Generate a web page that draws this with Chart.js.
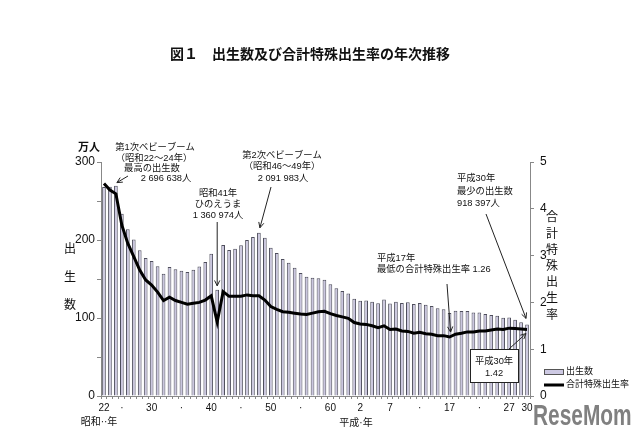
<!DOCTYPE html>
<html><head><meta charset="utf-8">
<script src="https://cdn.jsdelivr.net/npm/chart.js@4/dist/chart.umd.min.js"></script>
<style>html,body{margin:0;padding:0;background:#fff;}#wrap{position:relative;width:640px;height:436px;}</style>
</head><body><div id="wrap"><canvas id="c" width="640" height="436"></canvas></div>
<script>
// ---- data ----
const years = [1947,1948,1949,1950,1951,1952,1953,1954,1955,1956,1957,1958,1959,1960,1961,1962,1963,1964,1965,1966,1967,1968,1969,1970,1971,1972,1973,1974,1975,1976,1977,1978,1979,1980,1981,1982,1983,1984,1985,1986,1987,1988,1989,1990,1991,1992,1993,1994,1995,1996,1997,1998,1999,2000,2001,2002,2003,2004,2005,2006,2007,2008,2009,2010,2011,2012,2013,2014,2015,2016,2017,2018];
// births, 10k persons (万人)
const births = [267.9,268.2,269.7,233.8,213.8,200.5,186.8,177.0,173.1,166.5,156.7,165.3,162.6,160.6,158.9,161.9,166.0,171.7,182.4,136.1,193.6,187.2,188.9,193.4,200.1,203.9,209.2,203.0,190.1,183.3,175.5,170.9,164.3,157.7,152.9,151.5,150.9,149.0,143.2,138.3,134.7,131.4,124.7,122.2,122.3,120.9,118.8,123.8,118.7,120.7,119.2,120.3,117.8,119.1,117.1,115.4,112.4,111.1,106.3,109.3,109.0,109.1,107.0,107.1,105.1,103.7,103.0,100.4,100.6,97.7,94.6,91.8];
// total fertility rate
const tfr = [4.54,4.40,4.32,3.65,3.26,2.98,2.69,2.48,2.37,2.22,2.04,2.11,2.04,2.00,1.96,1.98,2.00,2.05,2.14,1.58,2.23,2.13,2.13,2.13,2.16,2.14,2.14,2.05,1.91,1.85,1.80,1.79,1.77,1.75,1.74,1.77,1.80,1.81,1.76,1.72,1.69,1.66,1.57,1.54,1.53,1.50,1.46,1.50,1.42,1.43,1.39,1.38,1.34,1.36,1.33,1.32,1.29,1.29,1.26,1.32,1.34,1.37,1.37,1.39,1.39,1.41,1.43,1.42,1.45,1.44,1.43,1.42];
const tickYears = [1947,1950,1955,1960,1965,1970,1975,1980,1985,1990,1995,2000,2005,2010,2015,2018];
const tickText  = ['22','·','30','·','40','·','50','·','60','2','7','·','17','·','27','30'];
const leftTicks = [0,100,200,300];
const rightTicks = [0,1,2,3,4,5];

const FF = "'Liberation Sans','Noto Sans CJK JP',sans-serif";
const idx = y => years.indexOf(y);

function arrow(ctx,x1,y1,x2,y2){
  ctx.save();
  ctx.strokeStyle='#222';ctx.lineWidth=1;
  ctx.beginPath();ctx.moveTo(x1,y1);ctx.lineTo(x2,y2);ctx.stroke();
  const a=Math.atan2(y2-y1,x2-x1), L=6, w=0.45;
  ctx.beginPath();
  ctx.moveTo(x2-L*Math.cos(a-w),y2-L*Math.sin(a-w));
  ctx.lineTo(x2,y2);
  ctx.lineTo(x2-L*Math.cos(a+w),y2-L*Math.sin(a+w));
  ctx.stroke();
  ctx.restore();
}
function txt(ctx,s,x,y,size,align,bold){
  ctx.font=(bold?'bold ':'')+size+'px '+FF;
  ctx.textAlign=align||'left';ctx.textBaseline='middle';ctx.fillStyle='#111';
  ctx.fillText(s,x,y);
}

const annot = {
  id:'annot',
  afterDraw(chart){
    const ctx=chart.ctx, xs=chart.scales.x, yl=chart.scales.y, yr=chart.scales.y2;
    const bx=i=>xs.getPixelForValue(i);
    // title
    txt(ctx,'図１　出生数及び合計特殊出生率の年次推移',310,55,14,'center',true);
    // axis titles
    txt(ctx,'万人',89,148,11,'center',true);
    ['出','生','数'].forEach((c,i)=>txt(ctx,c,70,250+i*28,12,'center'));
    ['合','計','特','殊','出','生','率'].forEach((c,i)=>txt(ctx,c,552,218+i*16.2,12,'center'));
    txt(ctx,'昭和··年',99,422,10,'center');
    txt(ctx,'平成·年',356,423,10,'center');
    // baby boom 1
    txt(ctx,'第1次ベビーブーム',155,147,9.3,'center');
    txt(ctx,'（昭和22～24年）',154,158,9.3,'center');
    txt(ctx,'最高の出生数',152,168,9.3,'center');
    txt(ctx,'2 696 638人',166,178,9.3,'center');
    let i=idx(1949);
    arrow(ctx,128,176,bx(i)+1,yl.getPixelForValue(births[i])-3);
    // baby boom 2
    txt(ctx,'第2次ベビーブーム',282,155,9.3,'center');
    txt(ctx,'（昭和46～49年）',282,166,9.3,'center');
    txt(ctx,'2 091 983人',283,178,9.3,'center');
    i=idx(1973);
    arrow(ctx,271,187,bx(i)+1,yl.getPixelForValue(births[i])-5);
    // hinoeuma
    txt(ctx,'昭和41年',218,193,9.3,'center');
    txt(ctx,'ひのえうま',218,204,9.3,'center');
    txt(ctx,'1 360 974人',218,215,9.3,'center');
    i=idx(1966);
    arrow(ctx,bx(i),222,bx(i),yl.getPixelForValue(births[i])-4);
    // lowest TFR
    txt(ctx,'平成17年',377,258,9.3,'left');
    txt(ctx,'最低の合計特殊出生率 1.26',377,269,9.3,'left');
    i=idx(2005);
    arrow(ctx,447,284,bx(i)+1,yr.getPixelForValue(tfr[i])-5);
    // lowest births
    txt(ctx,'平成30年',457,178,9.3,'left');
    txt(ctx,'最少の出生数',457,191,9.3,'left');
    txt(ctx,'918 397人',457,203,9.3,'left');
    i=idx(2018);
    arrow(ctx,486,214,bx(i)-1,yl.getPixelForValue(births[i])-6);
    // box 1.42
    ctx.save();ctx.fillStyle='#fff';ctx.strokeStyle='#222';ctx.lineWidth=1;
    ctx.fillRect(470.5,349.5,48,33);ctx.strokeRect(470.5,349.5,48,33);ctx.restore();
    txt(ctx,'平成30年',494,361,9.3,'center');
    txt(ctx,'1.42',494,373,9.3,'center');
    arrow(ctx,509,349,bx(i)-1,yr.getPixelForValue(tfr[i])+4);
    // legend
    ctx.save();
    ctx.fillStyle='#cdc9e3';ctx.strokeStyle='#555';ctx.lineWidth=1;
    ctx.fillRect(544.5,369.5,19,5);ctx.strokeRect(544.5,369.5,19,5);
    ctx.strokeStyle='#000';ctx.lineWidth=3;
    ctx.beginPath();ctx.moveTo(544,385);ctx.lineTo(564,385);ctx.stroke();
    ctx.restore();
    txt(ctx,'出生数',566,372,9,'left');
    txt(ctx,'合計特殊出生率',566,385,9,'left');
    // watermark
    ctx.save();ctx.translate(533,417);ctx.scale(0.72,1);
    ctx.font="bold 29px 'Liberation Sans',sans-serif";ctx.fillStyle='#808080';
    ctx.textAlign='left';ctx.textBaseline='middle';ctx.fillText('ReseMom',0,0);ctx.restore();
  }
};

new Chart(document.getElementById('c'),{
  type:'bar',
  data:{
    labels:years,
    datasets:[
      {type:'line',label:'合計特殊出生率',data:tfr,yAxisID:'y2',borderColor:'#000',borderWidth:3,pointRadius:0,tension:0,order:0},
      {type:'bar',label:'出生数',data:births,yAxisID:'y',backgroundColor:'#cac6df',borderColor:'#4e4e5c',borderWidth:1,barPercentage:0.62,categoryPercentage:1.0,order:1}
    ]
  },
  options:{
    responsive:false,animation:false,
    layout:{padding:{top:162,left:0,right:0,bottom:0}},
    plugins:{legend:{display:false},tooltip:{enabled:false}},
    scales:{
      x:{
        afterFit:s=>{s.height=40;},
        grid:{display:true,drawOnChartArea:false,tickLength:3,color:'#888'},
        border:{display:true,color:'#888'},
        ticks:{autoSkip:false,maxRotation:0,padding:3,font:{size:10,family:FF},color:'#111',
          callback:(v,k)=>{const j=tickYears.indexOf(years[k]);return j>=0?tickText[j]:'';}}
      },
      y:{
        position:'left',min:0,max:300,
        afterFit:s=>{s.width=101;},
        afterBuildTicks:s=>{s.ticks=[0,50,100,150,200,250,300].map(v=>({value:v}));},
        grid:{display:true,drawOnChartArea:false,tickLength:4,color:'#888'},
        border:{display:true,color:'#888'},
        ticks:{padding:2,font:{size:12,family:FF},color:'#111',callback:v=>leftTicks.includes(v)?String(v):''}
      },
      y2:{
        position:'right',min:0,max:5,
        afterFit:s=>{s.width=110;},
        afterBuildTicks:s=>{s.ticks=rightTicks.map(v=>({value:v}));},
        grid:{display:true,drawOnChartArea:false,tickLength:4,color:'#888'},
        border:{display:true,color:'#888'},
        ticks:{padding:6,font:{size:12,family:FF},color:'#111',callback:v=>String(v)}
      }
    }
  },
  plugins:[annot]
});
</script></body></html>
